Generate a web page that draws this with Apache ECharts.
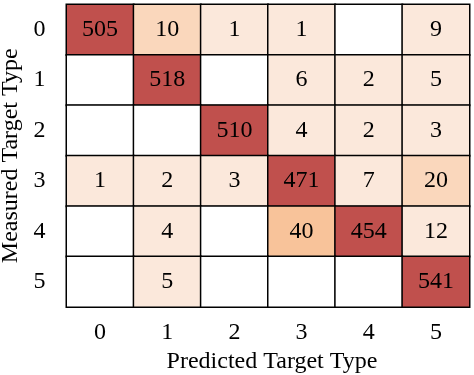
<!DOCTYPE html>
<html>
<head>
<meta charset="utf-8">
<script src="https://cdn.jsdelivr.net/npm/echarts@6/dist/echarts.min.js"></script>
<style>html,body{margin:0;padding:0;background:#fff;}#c{width:474px;height:375px;}</style>
</head>
<body>
<div id="c"></div>
<script>
const predictedTypes = ['0','1','2','3','4','5'];
const measuredTypes = ['0','1','2','3','4','5'];
// rows = measured, cols = predicted
const row0 = [505, 10, 1, 1, 0, 9];
const row1 = [0, 518, 0, 6, 2, 5];
const row2 = [0, 0, 510, 4, 2, 3];
const row3 = [1, 2, 3, 471, 7, 20];
const row4 = [0, 4, 0, 40, 454, 12];
const row5 = [0, 5, 0, 0, 0, 541];
const rows = [row0, row1, row2, row3, row4, row5];

const data = [];
rows.forEach((r, i) => r.forEach((v, j) => data.push([j, i, v])));

const FONT = '"Liberation Serif", "Times New Roman", serif';
const chart = echarts.init(document.getElementById('c'));
chart.setOption({
  animation: false,
  grid: {left: 66.5, top: 4.5, width: 403, height: 302.5, outerBoundsMode: 'none', containLabel: false},
  xAxis: {
    type: 'category', data: predictedTypes,
    name: 'Predicted Target Type', nameLocation: 'middle', nameGap: 34,
    nameTextStyle: {fontFamily: FONT, fontSize: 24, color: '#000', padding: [0, 0, 0, 8]},
    axisLine: {show: false}, axisTick: {show: false},
    axisLabel: {fontFamily: FONT, fontSize: 24, color: '#000', margin: 14},
    splitLine: {show: false}
  },
  yAxis: {
    type: 'category', data: measuredTypes, inverse: true,
    name: 'Measured Target Type', nameLocation: 'middle', nameGap: 36,
    nameTextStyle: {fontFamily: FONT, fontSize: 24, color: '#000'},
    axisLine: {show: false}, axisTick: {show: false},
    axisLabel: {fontFamily: FONT, fontSize: 24, color: '#000', margin: 21},
    splitLine: {show: false}
  },
  visualMap: {
    show: false, type: 'piecewise', dimension: 2,
    pieces: [
      {value: 0, color: '#ffffff'},
      {min: 1, max: 9, color: '#FBE8DB'},
      {min: 10, max: 11, color: '#FAD7BC'},
      {min: 12, max: 19, color: '#FBE8DB'},
      {min: 20, max: 30, color: '#FAD7BC'},
      {min: 31, max: 100, color: '#F8C39A'},
      {min: 101, color: '#C0504D'}
    ]
  },
  series: [{
    type: 'heatmap',
    data: data,
    itemStyle: {borderColor: '#000', borderWidth: 1.5},
    label: {
      show: true, fontFamily: FONT, fontSize: 24, color: '#000',
      formatter: p => p.value[2] === 0 ? '' : String(p.value[2])
    },
    emphasis: {disabled: true}
  }]
});
</script>
</body>
</html>
